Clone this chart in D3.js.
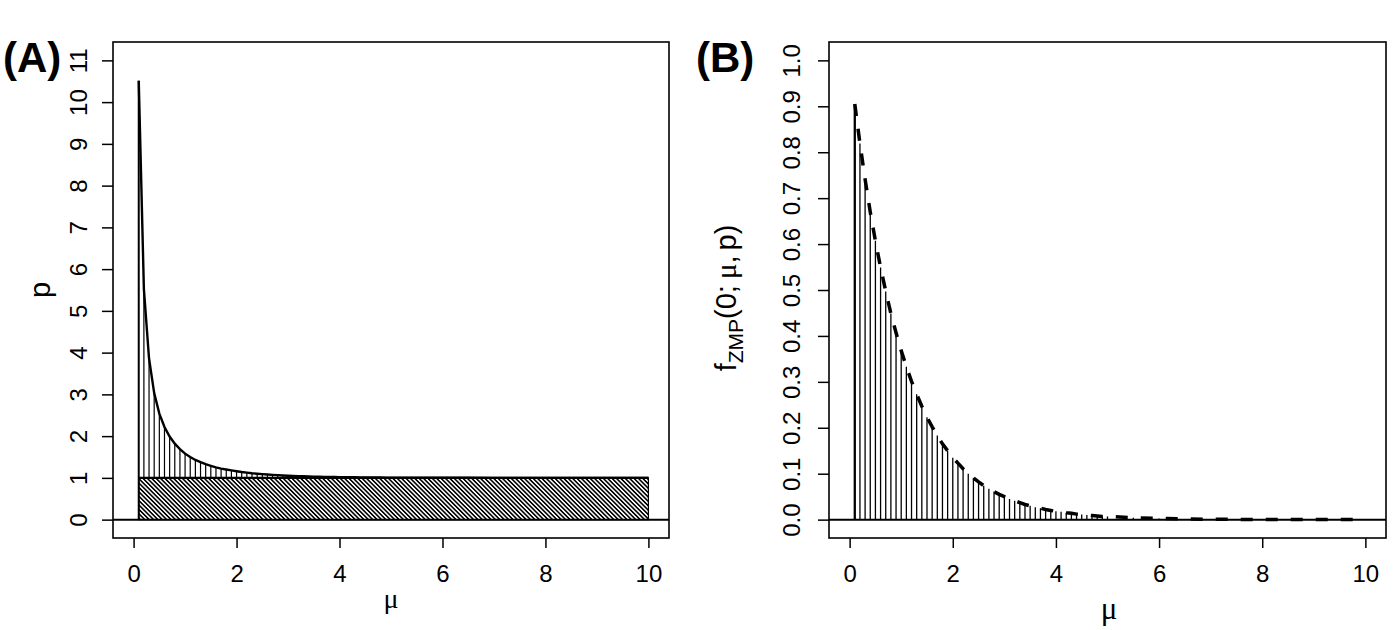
<!DOCTYPE html>
<html>
<head>
<meta charset="utf-8">
<script src="https://cdn.jsdelivr.net/npm/d3@7"></script>
<style>
body { margin: 0; background: #fff; }
text { font-family: "Liberation Sans", Arial, sans-serif; fill: #000; }
</style>
</head>
<body>
<svg id="chart" width="1400" height="630"></svg>
<script>
// mu grid (every 0.1 up to 5, then coarser, values are flat there)
var mu = [0.1, 0.2, 0.3, 0.4, 0.5, 0.6, 0.7, 0.8, 0.9, 1.0,
          1.1, 1.2, 1.3, 1.4, 1.5, 1.6, 1.7, 1.8, 1.9, 2.0,
          2.1, 2.2, 2.3, 2.4, 2.5, 2.6, 2.7, 2.8, 2.9, 3.0,
          3.1, 3.2, 3.3, 3.4, 3.5, 3.6, 3.7, 3.8, 3.9, 4.0,
          4.1, 4.2, 4.3, 4.4, 4.5, 4.6, 4.7, 4.8, 4.9, 5.0,
          5.5, 6.0, 6.5, 7.0, 7.5, 8.0, 8.5, 9.0, 9.5, 10.0];
// (A) upper limit of p
var pMax = [10.51, 5.52, 3.86, 3.03, 2.54, 2.22, 1.99, 1.82, 1.69, 1.58,
            1.50, 1.43, 1.38, 1.33, 1.29, 1.25, 1.22, 1.20, 1.18, 1.16,
            1.14, 1.125, 1.111, 1.100, 1.089, 1.080, 1.072, 1.065, 1.058, 1.052,
            1.047, 1.043, 1.038, 1.035, 1.031, 1.028, 1.025, 1.023, 1.021, 1.019,
            1.017, 1.015, 1.014, 1.012, 1.011, 1.010, 1.009, 1.008, 1.007, 1.007,
            1.004, 1.002, 1.002, 1.001, 1.001, 1.000, 1.000, 1.000, 1.000, 1.000];
// (B) f_ZMP(0; mu, p) at p = 1
var f0 = [0.905, 0.819, 0.741, 0.670, 0.607, 0.549, 0.497, 0.449, 0.407, 0.368,
          0.333, 0.301, 0.273, 0.247, 0.223, 0.202, 0.183, 0.165, 0.150, 0.135,
          0.123, 0.111, 0.100, 0.091, 0.082, 0.074, 0.067, 0.061, 0.055, 0.050,
          0.045, 0.041, 0.037, 0.033, 0.030, 0.027, 0.025, 0.022, 0.020, 0.018,
          0.017, 0.015, 0.014, 0.012, 0.011, 0.010, 0.009, 0.008, 0.007, 0.007,
          0.004, 0.0025, 0.0015, 0.0009, 0.0006, 0.0003, 0.0002, 0.0001, 0.0001, 0.0];
var pBand = [0, 1];
var xTicks = [0, 2, 4, 6, 8, 10];
var yTicksA = [0, 1, 2, 3, 4, 5, 6, 7, 8, 9, 10, 11];
var yTicksB = [0, 0.1, 0.2, 0.3, 0.4, 0.5, 0.6, 0.7, 0.8, 0.9, 1.0];

var svg = d3.select("#chart");
svg.append("rect").attr("width", 1400).attr("height", 630).attr("fill", "#fff");

svg.append("defs").append("pattern")
    .attr("id", "hatch")
    .attr("patternUnits", "userSpaceOnUse")
    .attr("width", 6).attr("height", 3.1)
    .attr("patternTransform", "rotate(45)")
  .append("line")
    .attr("x1", 0).attr("y1", 1.55).attr("x2", 6).attr("y2", 1.55)
    .attr("stroke", "#000").attr("stroke-width", 1.6);

var last = mu.length - 1;

// ---------- panel A ----------
var xA = d3.scaleLinear().domain([-0.4, 10.4]).range([113, 669]);
var yA = d3.scaleLinear().domain([-0.44, 11.44]).range([538, 42]);

svg.append("rect")
    .attr("x", xA(mu[0])).attr("y", yA(pBand[1]))
    .attr("width", xA(mu[last]) - xA(mu[0]))
    .attr("height", yA(pBand[0]) - yA(pBand[1]))
    .attr("fill", "url(#hatch)").attr("stroke", "#000").attr("stroke-width", 1.2);

svg.append("g").selectAll("line").data(mu).join("line")
    .attr("x1", function(d) { return xA(d); })
    .attr("x2", function(d) { return xA(d); })
    .attr("y1", function(d, i) { return i == 0 ? yA(0) : yA(pBand[1]); })
    .attr("y2", function(d, i) { return yA(pMax[i]); })
    .attr("stroke", "#000")
    .attr("stroke-width", function(d, i) { return i == 0 ? 2 : 1.2; });

svg.append("line")
    .attr("x1", xA(mu[0])).attr("x2", xA(mu[last]))
    .attr("y1", yA(pBand[1])).attr("y2", yA(pBand[1]))
    .attr("stroke", "#000").attr("stroke-width", 2.4);

svg.append("path")
    .datum(mu)
    .attr("d", d3.line().x(function(d) { return xA(d); }).y(function(d, i) { return yA(pMax[i]); }))
    .attr("fill", "none").attr("stroke", "#000").attr("stroke-width", 2.4);

svg.append("line")
    .attr("x1", 113).attr("x2", 669).attr("y1", yA(0)).attr("y2", yA(0))
    .attr("stroke", "#000").attr("stroke-width", 2);

// ---------- panel B ----------
var xB = d3.scaleLinear().domain([-0.4, 10.4]).range([829, 1386]);
var yB = d3.scaleLinear().domain([-0.04, 1.04]).range([538, 42]);

svg.append("g").selectAll("line").data(mu).join("line")
    .attr("x1", function(d) { return xB(d); })
    .attr("x2", function(d) { return xB(d); })
    .attr("y1", yB(0))
    .attr("y2", function(d, i) { return yB(f0[i]); })
    .attr("stroke", "#000")
    .attr("stroke-width", function(d, i) { return i == 0 ? 2.3 : 1.3; });

svg.append("path")
    .datum(mu)
    .attr("d", d3.line().x(function(d) { return xB(d); }).y(function(d, i) { return yB(f0[i]); }))
    .attr("fill", "none").attr("stroke", "#000").attr("stroke-width", 3.5)
    .attr("stroke-dasharray", "12,13");

svg.append("line")
    .attr("x1", 829).attr("x2", 1386).attr("y1", yB(0)).attr("y2", yB(0))
    .attr("stroke", "#000").attr("stroke-width", 2);

// ---------- boxes and axes ----------
function drawAxes(x, y, yTicks, yFmt, labelOff) {
    var x0 = x.range()[0], x1 = x.range()[1], y0 = y.range()[0], y1 = y.range()[1];
    svg.append("rect")
        .attr("x", x0).attr("y", y1).attr("width", x1 - x0).attr("height", y0 - y1)
        .attr("fill", "none").attr("stroke", "#000").attr("stroke-width", 1.6);

    var gx = svg.append("g")
        .attr("transform", "translate(0," + y0 + ")")
        .call(d3.axisBottom(x).tickValues(xTicks).tickSize(10).tickPadding(17));
    gx.select(".domain").remove();
    gx.selectAll(".tick line").attr("stroke-width", 1.5);
    gx.selectAll(".tick text").style("font-size", "24px").style("font-family", "Liberation Sans, Arial, sans-serif");

    var gy = svg.append("g")
        .attr("transform", "translate(" + x0 + ",0)")
        .call(d3.axisLeft(y).tickValues(yTicks).tickSize(11).tickFormat(yFmt));
    gy.select(".domain").remove();
    gy.selectAll(".tick line").attr("stroke-width", 1.5);
    gy.selectAll(".tick text")
        .attr("transform", "rotate(-90)")
        .attr("text-anchor", "middle")
        .attr("x", 0).attr("y", -labelOff).attr("dy", 0)
        .style("font-size", "24px").style("font-family", "Liberation Sans, Arial, sans-serif");
}
drawAxes(xA, yA, yTicksA, d3.format("d"), 26);
drawAxes(xB, yB, yTicksB, d3.format(".1f"), 29);

// ---------- labels ----------
svg.append("text").attr("x", 3).attr("y", 72).text("(A)")
    .style("font-size", "42px").style("font-weight", "bold");
svg.append("text").attr("x", 696).attr("y", 72).text("(B)")
    .style("font-size", "42px").style("font-weight", "bold");

svg.append("text")
    .attr("transform", "translate(50,290) rotate(-90)")
    .attr("text-anchor", "middle")
    .style("font-size", "29px")
    .text("p");

svg.append("text").attr("x", 391).attr("y", 608).attr("text-anchor", "middle")
    .style("font-size", "28px").style("font-family", "Liberation Serif, serif")
    .text("μ");
svg.append("text").attr("x", 1109).attr("y", 619).attr("text-anchor", "middle")
    .style("font-size", "31px").style("font-family", "Liberation Serif, serif")
    .text("μ");

var yt = svg.append("text")
    .attr("transform", "translate(736,298) rotate(-90)")
    .attr("text-anchor", "middle")
    .style("font-size", "29px");
yt.append("tspan").text("f");
yt.append("tspan").attr("dy", 7).style("font-size", "21px").text("ZMP");
yt.append("tspan").attr("dy", -7).text("(0;");
yt.append("tspan").attr("dx", 6).style("font-family", "Liberation Serif, serif").text("μ");
yt.append("tspan").text(",");
yt.append("tspan").attr("dx", 5).text("p)");
</script>
</body>
</html>
